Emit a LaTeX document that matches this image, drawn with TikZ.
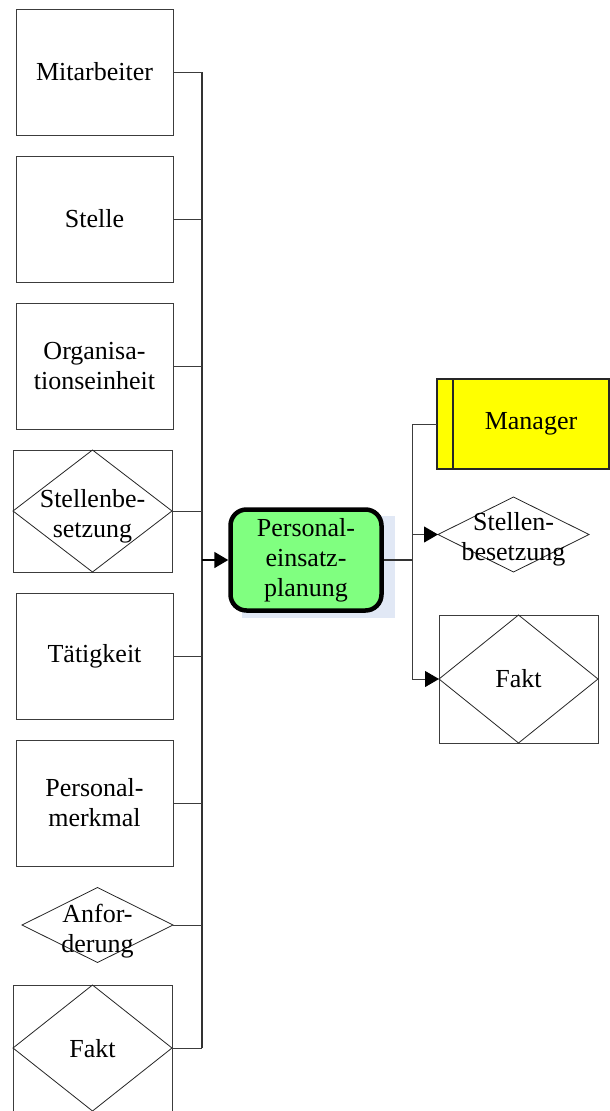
\documentclass[tikz,border=0pt]{standalone}
\usepackage{fontspec}
\setmainfont{Liberation Serif}
\usetikzlibrary{shapes.geometric,arrows.meta}
\definecolor{linegray}{RGB}{60,60,60}
\definecolor{fnfill}{RGB}{128,255,128}
\definecolor{shadowblue}{RGB}{205,216,238}
\definecolor{orgyellow}{RGB}{255,255,0}
\begin{document}
\begin{tikzpicture}[x=1pt,y=-1pt,
  every node/.style={font=\fontsize{26}{30}\selectfont},
  objbox/.style={draw=linegray, line width=1pt, fill=white, minimum width=157pt,
    minimum height=126pt, inner sep=0pt, outer sep=0pt, align=center},
  relbox/.style={draw=linegray, line width=1pt, fill=white, inner sep=0pt, outer sep=0pt},
  reldiam/.style={diamond, draw=black!85, line width=0.8pt, inner sep=0pt, outer sep=0pt},
  lbl/.style={align=center, inner sep=0pt},
  funcbox/.style={draw=black, line width=4.5pt, fill=fnfill, rounded corners=16pt,
    minimum width=151pt, minimum height=101pt, inner sep=0pt, outer sep=2.25pt, align=center},
  orgbox/.style={draw=black!85, line width=1.6pt, fill=orgyellow, minimum width=172pt,
    minimum height=90pt, inner sep=0pt, outer sep=0pt},
  conn/.style={draw=linegray, line width=1pt},
  busline/.style={draw=black!80, line width=2pt},
  arr/.style={-{Triangle[length=14pt,width=16pt,black,fill=black]}}
]
\useasboundingbox (0,0) rectangle (610,1111);

% input objects on the left
\node[objbox] (mit) at (94.5,72) {Mitarbeiter};
\node[objbox] (stelle) at (94.5,219) {Stelle};
\node[objbox] (org) at (94.5,366) {Organisa-\\tionseinheit};
\node[relbox, minimum width=159pt, minimum height=122pt] (sbbox) at (92.5,511) {};
\node[reldiam, minimum width=159pt, minimum height=122pt] (sbl) at (92.5,511) {};
\node[lbl] (sbltext) at (92.5,516) {Stellenbe-\\setzung};
\node[objbox] (taet) at (94.5,656) {Tätigkeit};
\node[objbox] (pm) at (94.5,803) {Personal-\\merkmal};
\node[reldiam, minimum width=151pt, minimum height=75pt] (anf) at (97.5,925) {};
\node[lbl] (anftext) at (97.5,931) {Anfor-\\derung};
\node[relbox, minimum width=159pt, minimum height=132pt] (faktlbox) at (92.5,1051) {};
\node[reldiam, minimum width=159pt, minimum height=126pt] (faktl) at (92.5,1048) {};
\node[lbl] (faktltext) at (92.5,1049) {Fakt};

% collecting bus on the left
\coordinate (busT) at (202,72);
\coordinate (busB) at (202,1048);
\draw[busline] (busT) -- (busB);
\foreach \n in {mit,stelle,org,sbl,taet,pm,anf,faktl}
  \draw[conn] (\n.east) -- (\n.east -| busT);

% function with its shadow
\fill[shadowblue, opacity=0.6] (242,516) rectangle (395,618);
\node[funcbox] (fn) at (306,560) {Personal-\\einsatz-\\planung};
\draw[black, line width=1.8pt, arr] (fn.west -| busT) -- (fn.west);

% output side
\coordinate (rbus) at (412,560);
\node[orgbox, anchor=west] (mgr) at (437,424) {};
\draw[black!85, line width=1.6pt] ([xshift=16pt]mgr.north west) -- ([xshift=16pt]mgr.south west);
\node[lbl] (mgrtext) at (531,424) {Manager};
\node[reldiam, minimum width=151pt, minimum height=75pt] (sbr) at (513.5,534.5) {};
\node[lbl] (sbrtext) at (513.5,539) {Stellen-\\besetzung};
\node[relbox, minimum width=159pt, minimum height=128pt] (faktrbox) at (518.5,679) {};
\node[reldiam, minimum width=159pt, minimum height=128pt] (faktr) at (518.5,679) {};
\node[lbl] (faktrtext) at (518.5,679) {Fakt};

\draw[busline] (fn.east) -- (rbus);
\draw[conn] (mgr.west -| rbus) -- (faktr.west -| rbus);
\draw[conn] (mgr.west -| rbus) -- (mgr.west);
\draw[conn, arr] (sbr.west -| rbus) -- (sbr.west);
\draw[conn, arr] (faktr.west -| rbus) -- (faktr.west);
\end{tikzpicture}
\end{document}
